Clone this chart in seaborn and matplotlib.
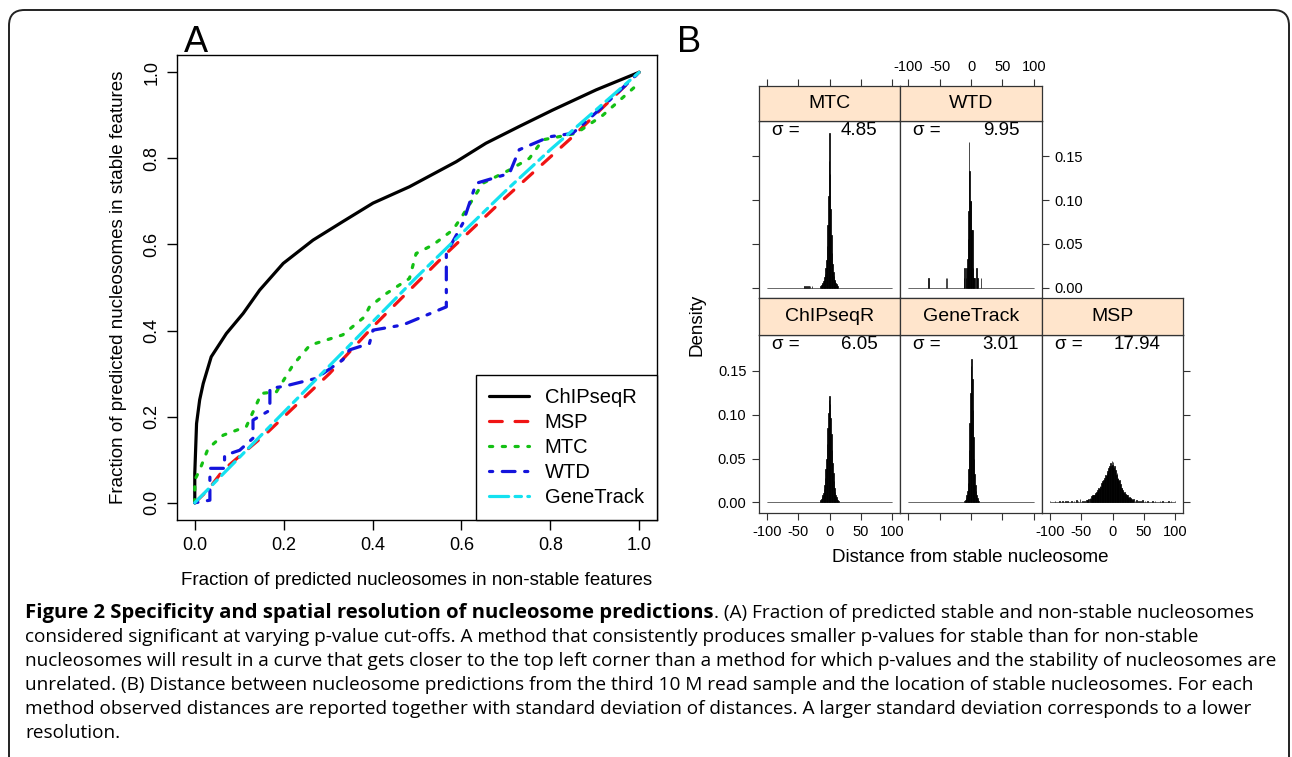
import numpy as np
import pandas as pd
import matplotlib
matplotlib.use("Agg")
import matplotlib.pyplot as plt
import seaborn as sns
from matplotlib.patches import FancyBboxPatch

# ---------------- panel A: fraction of predicted stable vs non-stable nucleosomes
methods_a = ["ChIPseqR", "MSP", "MTC", "WTD", "GeneTrack"]
colors_a = {"ChIPseqR": "#000000", "MSP": "#F01414", "MTC": "#14C014",
            "WTD": "#1414DC", "GeneTrack": "#14E1F0"}
dashes_a = {"ChIPseqR": "", "MSP": (4, 4), "MTC": (1, 3),
            "WTD": (1, 3, 4, 3), "GeneTrack": (6, 2, 2, 2)}

chipseqr_x = [0, 0, 0.004, 0.011, 0.019, 0.037, 0.071, 0.109, 0.146, 0.199, 0.266,
              0.333, 0.401, 0.483, 0.588, 0.655, 0.730, 0.805, 0.903, 1.0]
chipseqr_y = [0, 0.068, 0.184, 0.239, 0.277, 0.339, 0.393, 0.440, 0.494, 0.556, 0.610,
              0.653, 0.696, 0.734, 0.792, 0.835, 0.874, 0.912, 0.959, 1.0]
msp_x = [0, 0.03, 0.064, 0.161, 0.303, 0.401, 0.566, 0.693, 0.850, 1.0]
msp_y = [0, 0.03, 0.076, 0.161, 0.300, 0.409, 0.579, 0.703, 0.850, 1.0]
mtc_x = [0, 0, 0.011, 0.030, 0.064, 0.116, 0.150, 0.184, 0.221, 0.259, 0.333, 0.382, 0.393,
         0.431, 0.483, 0.498, 0.536, 0.581, 0.603, 0.648, 0.708, 0.753, 0.783, 0.858, 0.918, 1.0]
mtc_y = [0, 0.053, 0.076, 0.126, 0.157, 0.177, 0.254, 0.258, 0.320, 0.366, 0.390, 0.432, 0.455,
         0.486, 0.521, 0.579, 0.599, 0.634, 0.668, 0.742, 0.773, 0.800, 0.843, 0.858, 0.900, 0.975]
wtd_x = [0, 0.034, 0.034, 0.067, 0.067, 0.101, 0.131, 0.131, 0.169, 0.169, 0.199, 0.273, 0.333,
         0.348, 0.393, 0.401, 0.468, 0.566, 0.566, 0.603, 0.633, 0.708, 0.730, 0.798, 0.850, 0.918, 1.0]
wtd_y = [0, 0.006, 0.080, 0.080, 0.110, 0.122, 0.150, 0.192, 0.215, 0.266, 0.270, 0.289, 0.332,
         0.355, 0.370, 0.401, 0.413, 0.455, 0.579, 0.649, 0.742, 0.765, 0.820, 0.850, 0.858, 0.920, 1.0]
genetrack_x = [0, 0.1, 0.2, 0.3, 0.4, 0.5, 0.6, 0.7, 0.8, 0.9, 1.0]
genetrack_y = [0, 0.105, 0.21, 0.315, 0.42, 0.525, 0.625, 0.725, 0.82, 0.91, 1.0]

curves = {"ChIPseqR": (chipseqr_x, chipseqr_y), "MSP": (msp_x, msp_y), "MTC": (mtc_x, mtc_y),
          "WTD": (wtd_x, wtd_y), "GeneTrack": (genetrack_x, genetrack_y)}
frac_ticks = [0.0, 0.2, 0.4, 0.6, 0.8, 1.0]

# ---------------- panel B: distance from stable nucleosome (density histograms)
mtc_dist = [-40, -37, -34, -31, -28, -14, -13, -12, -11, -10, -9, -8, -7, -6, -5, -4, -3, -2, -1,
            0, 1, 2, 3, 4, 5, 6, 7, 8, 9, 10, 11, 12, 13]
mtc_dens = [0.002, 0.002, 0.002, 0.002, 0.002, 0.002, 0.003, 0.004, 0.005, 0.007, 0.009, 0.012,
            0.016, 0.022, 0.032, 0.048, 0.072, 0.105, 0.145, 0.177, 0.130, 0.090, 0.060, 0.040,
            0.027, 0.018, 0.013, 0.009, 0.007, 0.005, 0.004, 0.003, 0.002]
wtd_dist = [-68, -40, -38, -11, -10, -8, -7, -6, -5, -4, -3, -2, -1, 0, 1, 2, 3, 4, 6, 9, 10, 16]
wtd_dens = [0.011, 0.011, 0.011, 0.011, 0.022, 0.011, 0.022, 0.033, 0.055, 0.088, 0.166, 0.133,
            0.099, 0.099, 0.066, 0.066, 0.022, 0.011, 0.011, 0.022, 0.011, 0.011]
chipseqr_dist = list(range(-16, 16))
chipseqr_dens = [0.001, 0.002, 0.003, 0.004, 0.006, 0.008, 0.011, 0.015, 0.020, 0.028, 0.038,
                 0.050, 0.066, 0.085, 0.102, 0.116, 0.121, 0.112, 0.096, 0.078, 0.060, 0.045,
                 0.033, 0.024, 0.017, 0.012, 0.009, 0.006, 0.004, 0.003, 0.002, 0.001]
genetrack_dist = list(range(-10, 13))
genetrack_dens = [0.002, 0.003, 0.005, 0.008, 0.013, 0.022, 0.038, 0.060, 0.090, 0.125, 0.155,
                  0.163, 0.140, 0.105, 0.075, 0.050, 0.032, 0.020, 0.013, 0.008, 0.005, 0.003, 0.002]
msp_dist = [-100, -97, -92, -88, -85, -80, -78, -75, -72, -70, -66, -62, -58, -55, -52, -48, -45,
            -42, -40, -38, -36, -35, -34, -33, -32, -31, -30, -29, -28, -27, -26, -25, -24, -23,
            -22, -21, -20, -19, -18, -17, -16, -15, -14, -13, -12, -11, -10, -9, -8, -7, -6, -5,
            -4, -3, -2, -1, 0, 1, 2, 3, 4, 5, 6, 7, 8, 9, 10, 11, 12, 13, 14, 15, 16, 17, 18, 19,
            20, 21, 22, 23, 24, 25, 26, 27, 28, 29, 30, 32, 34, 36, 38, 42, 45, 48, 52, 56, 60,
            64, 68, 72, 76, 80, 85, 90, 94, 98, 100]
msp_dens = [0.002, 0.001, 0.002, 0.001, 0.002, 0.002, 0.001, 0.002, 0.002, 0.001, 0.002, 0.002,
            0.003, 0.002, 0.004, 0.002, 0.002, 0.003, 0.003, 0.004, 0.005, 0.004, 0.007, 0.006,
            0.008, 0.007, 0.009, 0.008, 0.010, 0.011, 0.012, 0.011, 0.014, 0.013, 0.016, 0.015,
            0.019, 0.018, 0.022, 0.021, 0.024, 0.023, 0.026, 0.028, 0.027, 0.031, 0.030, 0.033,
            0.036, 0.034, 0.039, 0.042, 0.038, 0.045, 0.041, 0.047, 0.043, 0.046, 0.039, 0.041,
            0.035, 0.037, 0.031, 0.033, 0.027, 0.028, 0.024, 0.025, 0.020, 0.021, 0.017, 0.016,
            0.014, 0.013, 0.011, 0.012, 0.009, 0.010, 0.008, 0.007, 0.008, 0.006, 0.005, 0.006,
            0.004, 0.005, 0.004, 0.003, 0.004, 0.002, 0.003, 0.002, 0.002, 0.003, 0.002, 0.002,
            0.001, 0.002, 0.002, 0.001, 0.002, 0.002, 0.001, 0.002, 0.002, 0.001, 0.002]

hists = {"MTC": (mtc_dist, mtc_dens), "WTD": (wtd_dist, wtd_dens),
         "ChIPseqR": (chipseqr_dist, chipseqr_dens), "GeneTrack": (genetrack_dist, genetrack_dens),
         "MSP": (msp_dist, msp_dens)}
sigmas = {"MTC": "4.85", "WTD": "9.95", "ChIPseqR": "6.05", "GeneTrack": "3.01", "MSP": "17.94"}
dist_ticks = [-100, -50, 0, 50, 100]
dens_ticks = [0.00, 0.05, 0.10, 0.15]

caption_bold = "Figure 2 Specificity and spatial resolution of nucleosome predictions"
caption_lines = [
    ". (A) Fraction of predicted stable and non-stable nucleosomes",
    "considered significant at varying p-value cut-offs. A method that consistently produces smaller p-values for stable than for non-stable",
    "nucleosomes will result in a curve that gets closer to the top left corner than a method for which p-values and the stability of nucleosomes are",
    "unrelated. (B) Distance between nucleosome predictions from the third 10 M read sample and the location of stable nucleosomes. For each",
    "method observed distances are reported together with standard deviation of distances. A larger standard deviation corresponds to a lower",
    "resolution.",
]

sns.set_style("ticks")
plt.rcParams["font.family"] = ["Liberation Sans", "DejaVu Sans"]
plt.rcParams["lines.dash_capstyle"] = "round"
plt.rcParams["lines.solid_capstyle"] = "round"
for key in ["text.color", "axes.labelcolor", "xtick.labelcolor", "ytick.labelcolor"]:
    plt.rcParams[key] = "black"

W, H = 1292, 757
fig = plt.figure(figsize=(W / 100, H / 100), dpi=100)


def box(x0, y0, x1, y1):
    return [x0 / W, 1 - y1 / H, (x1 - x0) / W, (y1 - y0) / H]


# outer rounded frame (open at the bottom)
fig.add_artist(FancyBboxPatch((9 / W, 10 / H - 0.2), 1280 / W, 1.2 - 20 / H,
                              boxstyle="round,pad=0,rounding_size=0.012", mutation_aspect=W / H,
                              transform=fig.transFigure, fill=False, ec="#222222", lw=1.4))

# ---- panel A
axA = fig.add_axes(box(177, 55, 657, 520))
dfA = pd.concat([pd.DataFrame({"x": curves[m][0], "y": curves[m][1], "method": m}) for m in methods_a])
sns.lineplot(data=dfA, x="x", y="y", hue="method", style="method", hue_order=methods_a,
             style_order=methods_a, palette=colors_a, dashes=dashes_a, sort=False,
             estimator=None, lw=2.3, ax=axA)
axA.set_xlim(-0.04, 1.04)
axA.set_ylim(-0.04, 1.04)
axA.set_xticks(frac_ticks)
axA.set_yticks(frac_ticks)
axA.set_xticklabels([f"{t:.1f}" for t in frac_ticks])
axA.set_yticklabels([f"{t:.1f}" for t in frac_ticks], rotation=90, va="center")
axA.tick_params(length=7, width=1, labelsize=13, pad=5, colors="black")
axA.set_xlabel("Fraction of predicted nucleosomes in non-stable features", fontsize=13.5, labelpad=13)
axA.set_ylabel("Fraction of predicted nucleosomes in stable features", fontsize=13.5, labelpad=12)
for s in axA.spines.values():
    s.set_color("black")
    s.set_linewidth(1)
handles, labels = axA.get_legend_handles_labels()
leg = axA.legend(handles, labels, loc="lower right", borderaxespad=0, fancybox=False,
                 edgecolor="black", framealpha=1, fontsize=14.5, handlelength=1.95,
                 handletextpad=0.8, labelspacing=0.3, borderpad=0.65)
leg.get_frame().set_linewidth(1)
for h in leg.get_lines():
    h.set_linewidth(2.3)

fig.text(196 / W, 1 - 42 / H, "A", fontsize=26, ha="center", va="center")
fig.text(689 / W, 1 - 42 / H, "B", fontsize=26, ha="center", va="center")

# ---- panel B (lattice style)
col_edges = [759, 900, 1042, 1183]
rows = {"top": (86, 121, 298), "bottom": (298, 335, 513)}
layout = {"MTC": (0, "top"), "WTD": (1, "top"), "ChIPseqR": (0, "bottom"),
          "GeneTrack": (1, "bottom"), "MSP": (2, "bottom")}
tick_cfg = {
    "MTC": dict(left=True, top=True),
    "WTD": dict(right=True, labelright=True, top=True, labeltop=True),
    "ChIPseqR": dict(left=True, labelleft=True, bottom=True, labelbottom=True),
    "GeneTrack": dict(bottom=True),
    "MSP": dict(bottom=True, labelbottom=True, right=True),
}
frame_col = "#333333"
for m, (ci, row) in layout.items():
    x0, x1 = col_edges[ci], col_edges[ci + 1]
    s0, p0, p1 = rows[row]
    cfg = tick_cfg[m]
    ax = fig.add_axes(box(x0, p0, x1, p1))
    st = fig.add_axes(box(x0, s0, x1, p0))
    d, h = hists[m]
    sns.histplot(x=d, weights=h, binwidth=1, binrange=(-100.5, 100.5), color="black",
                 edgecolor="black", linewidth=0.5, alpha=1, ax=ax)
    ax.set_ylim(-0.012, 0.1905)
    ax.set(xlabel="", ylabel="")
    for a in (ax, st):
        a.set_xlim(-113, 113)
        a.set_xticks(dist_ticks)
        a.set_xticklabels([str(t) for t in dist_ticks])
        for s in a.spines.values():
            s.set_color(frame_col)
            s.set_linewidth(0.9)
        a.tick_params(length=5, width=0.8, color=frame_col, labelsize=10.5, pad=4)
    ax.set_yticks(dens_ticks)
    ax.set_yticklabels([f"{t:.2f}" for t in dens_ticks])
    ax.tick_params(axis="x", bottom=cfg.get("bottom", False), labelbottom=cfg.get("labelbottom", False),
                   top=False, labeltop=False)
    ax.tick_params(axis="y", left=cfg.get("left", False), labelleft=cfg.get("labelleft", False),
                   right=cfg.get("right", False), labelright=cfg.get("labelright", False))
    st.set_ylim(0, 1)
    st.set_yticks([])
    st.set_facecolor("#FFE5CC")
    st.tick_params(axis="x", bottom=False, labelbottom=False, top=cfg.get("top", False),
                   labeltop=cfg.get("labeltop", False))
    st.text(0.5, 0.5, m, transform=st.transAxes, ha="center", va="center", fontsize=14)
    ax.text(0.09, 0.945, "\u03c3 =", transform=ax.transAxes, ha="left", va="center", fontsize=13.5)
    ax.text(0.84, 0.945, sigmas[m], transform=ax.transAxes, ha="right", va="center", fontsize=13.5)

fig.text(697 / W, 1 - 325 / H, "Density", rotation=90, ha="center", va="center", fontsize=13.5)
fig.text(970 / W, 1 - 558 / H, "Distance from stable nucleosome", ha="center", va="center",
         fontsize=13.5)

# ---- caption
cap_font = ["Open Sans", "DejaVu Sans"]
cap_size = 13.7
line_y = [613, 637, 661, 685, 709, 733]
tb = fig.text(25 / W, 1 - line_y[0] / H, caption_bold, fontsize=14.6, fontweight="bold",
              family=cap_font, ha="left", va="center")
fig.canvas.draw()
bb = tb.get_window_extent(renderer=fig.canvas.get_renderer())
fig.text(bb.x1 / W, 1 - line_y[0] / H, caption_lines[0], fontsize=cap_size, family=cap_font,
         ha="left", va="center")
for yy, line in zip(line_y[1:], caption_lines[1:]):
    fig.text(25 / W, 1 - yy / H, line, fontsize=cap_size, family=cap_font, ha="left", va="center")

fig.savefig("out.png", dpi=100)
